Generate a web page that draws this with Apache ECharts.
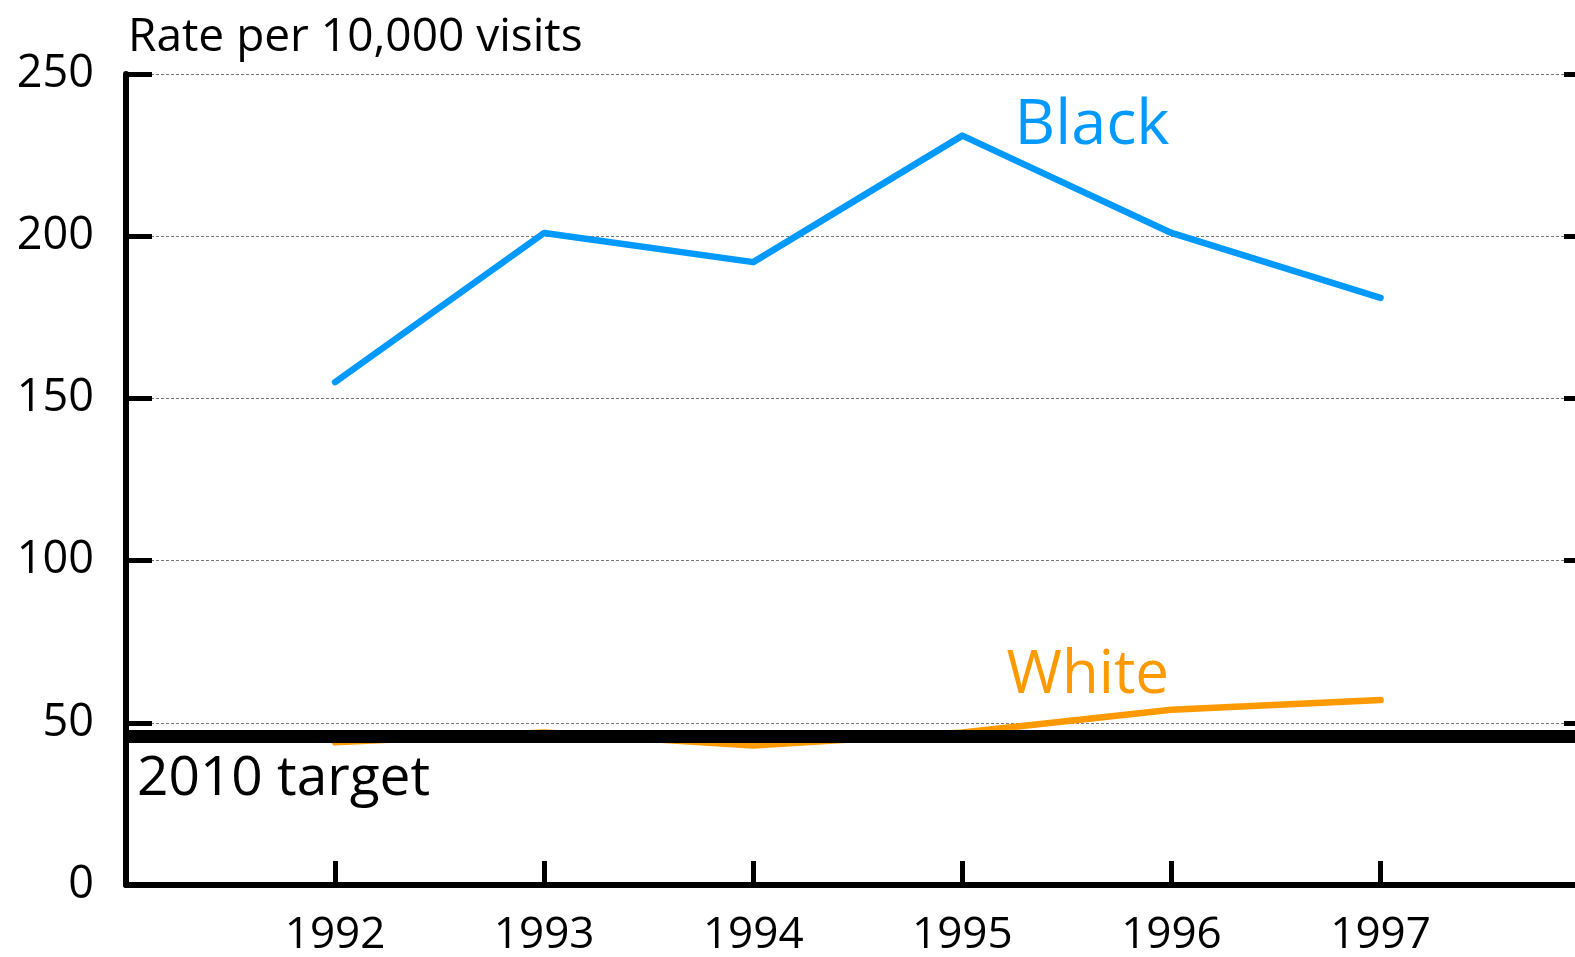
<!DOCTYPE html>
<html>
<head>
<meta charset="utf-8">
<script src="https://cdn.jsdelivr.net/npm/echarts@6/dist/echarts.min.js"></script>
<style>html,body{margin:0;padding:0;background:#fff}#c{width:1575px;height:957px}</style>
</head>
<body>
<div id="c"></div>
<script>
const years = [1992, 1993, 1994, 1995, 1996, 1997];
const black = [155, 201, 192, 231, 201, 181];
const white = [44, 47, 43, 47, 54, 57];
const target = 46;
const yTicks = [0, 50, 100, 150, 200, 250];
const seriesNames = ['Black', 'White'];
const targetLabel = '2010 target';
const yTitle = 'Rate per 10,000 visits';

const FONT = 'Open Sans';
const chart = echarts.init(document.getElementById('c'), null, {renderer: 'canvas'});
const pts = (arr) => years.map((y, i) => [y, arr[i]]);
chart.setOption({
  animation: false,
  textStyle: {fontFamily: FONT},
  grid: {left: 126, right: 0, top: 74, bottom: 71, containLabel: false},
  xAxis: {
    type: 'value', min: 1991, max: 1997.93,
    axisLine: {show: true, lineStyle: {color: '#000', width: 6}},
    axisTick: {show: true, inside: true, length: 24, customValues: years, lineStyle: {color: '#000', width: 5}},
    axisLabel: {
      fontSize: 44, color: '#000', margin: 28, fontFamily: FONT, customValues: years,
      formatter: v => String(v)
    },
    splitLine: {show: false}
  },
  yAxis: [{
    type: 'value', min: 0, max: 250, interval: 50, position: 'left',
    name: yTitle, nameLocation: 'end', nameGap: 13,
    nameTextStyle: {fontSize: 46, color: '#000', align: 'left', padding: [0, 0, 0, 2], fontFamily: FONT},
    axisLine: {show: true, lineStyle: {color: '#000', width: 6}},
    axisTick: {show: true, inside: true, length: 26, lineStyle: {color: '#000', width: 5}},
    axisLabel: {fontSize: 45, color: '#000', margin: 32, fontFamily: FONT,
      formatter: v => yTicks.includes(v) ? String(v) : ''},
    splitLine: {show: true, lineStyle: {color: '#777', width: 1, type: [3, 2]}}
  }, {
    type: 'value', min: 0, max: 250, interval: 50, position: 'right',
    axisLine: {show: false},
    axisTick: {show: true, inside: true, length: 11, lineStyle: {color: '#000', width: 5}},
    axisLabel: {show: false},
    splitLine: {show: false}
  }],
  series: [
    {
      name: 'target', type: 'line', data: [], z: 1, silent: true,
      markLine: {
        silent: true, symbol: 'none', animation: false,
        lineStyle: {color: '#000', width: 13, type: 'solid'},
        label: {show: true, position: 'insideStartBottom', formatter: targetLabel,
          fontSize: 55, color: '#000', fontFamily: FONT, distance: [11, 16]},
        data: [{yAxis: target}]
      }
    },
    {
      name: seriesNames[0], type: 'line', data: pts(black), z: 3,
      symbol: 'none', lineStyle: {color: '#0099FF', width: 6.5, cap: 'round', join: 'round'},
      markPoint: {
        symbol: 'circle', symbolSize: 0,
        label: {show: true, position: 'inside', formatter: seriesNames[0], fontSize: 63, color: '#0099FF', fontFamily: FONT},
        data: [{coord: [1995.62, 234]}]
      }
    },
    {
      name: seriesNames[1], type: 'line', data: pts(white), z: 4,
      symbol: 'none', lineStyle: {color: '#FF9900', width: 6.5, cap: 'round', join: 'round'},
      markPoint: {
        symbol: 'circle', symbolSize: 0,
        label: {show: true, position: 'inside', formatter: seriesNames[1], fontSize: 60, color: '#FF9900', fontFamily: FONT},
        data: [{coord: [1995.6, 64.5]}]
      }
    }
  ]
});
</script>
</body>
</html>
